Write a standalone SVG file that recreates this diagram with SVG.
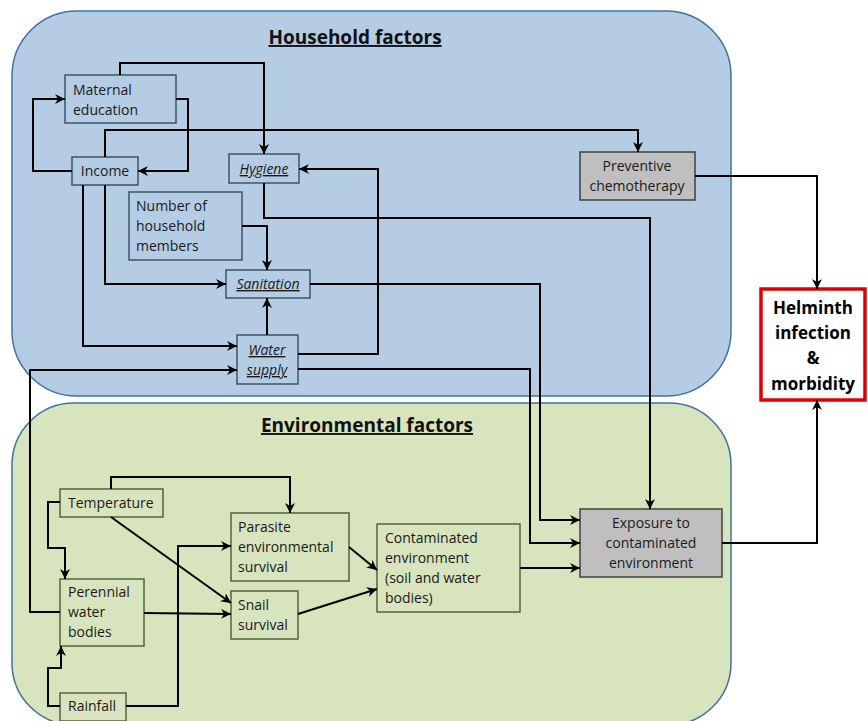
<svg xmlns="http://www.w3.org/2000/svg" width="868" height="721" viewBox="0 0 868 721">
<style>
text{font-family:"Open Sans","Noto Sans","Liberation Sans",sans-serif;font-size:14px;fill:#1a1a1a}
.title{font-size:19px;font-weight:bold;text-decoration:underline;fill:#111}
.hb{fill:none;stroke:#3d5466;stroke-width:1.5}
.eb{fill:none;stroke:#56613f;stroke-width:1.5}
.gb{fill:#bfbfbf;stroke:#404040;stroke-width:1.5}
.iu{font-style:italic;text-decoration:underline}
.mid{text-anchor:middle}
.c path{fill:none;stroke:#000;stroke-width:2;marker-end:url(#ah)}
.hel{font-size:17px;font-weight:bold;fill:#000}
</style>
<defs>
<marker id="ah" markerUnits="userSpaceOnUse" markerWidth="10" markerHeight="10" refX="10" refY="5" orient="auto">
<path d="M0,0 L10,5 L0,10 L3,5 z" fill="#000"/>
</marker>
</defs>
<g id="household-region">
<rect x="12" y="11" width="719" height="385" rx="65" fill="#b4cde4" stroke="#41719c" stroke-width="1.5"/>
<text class="title mid" x="355" y="44">Household factors</text>
</g>
<g id="environmental-region">
<rect x="12" y="403" width="719" height="322" rx="62" fill="#d7e4bd" stroke="#41719c" stroke-width="1.5"/>
<text class="title mid" x="367" y="432">Environmental factors</text>
</g>
<g id="maternal-education">
<rect class="hb" x="65" y="75" width="111" height="48"/>
<text x="73" y="95">Maternal</text><text x="73" y="115">education</text>
</g>
<g id="income">
<rect class="hb" x="72" y="157" width="66" height="28"/>
<text class="mid" x="105" y="176">Income</text>
</g>
<g id="hygiene">
<rect class="hb" x="229" y="154" width="70" height="29"/>
<text class="mid iu" x="264" y="174">Hygiene</text>
</g>
<g id="household-members">
<rect class="hb" x="129" y="192" width="113" height="68"/>
<text x="136" y="211">Number of</text><text x="136" y="231">household</text><text x="136" y="251">members</text>
</g>
<g id="sanitation">
<rect class="hb" x="226" y="270" width="84" height="28"/>
<text class="mid iu" x="268" y="289">Sanitation</text>
</g>
<g id="water-supply">
<rect class="hb" x="237" y="335" width="61" height="49"/>
<text class="mid iu" x="267" y="355">Water</text><text class="mid iu" x="267" y="375">supply</text>
</g>
<g id="preventive-chemotherapy">
<rect class="gb" x="580" y="152" width="115" height="48"/>
<text class="mid" x="637" y="171">Preventive</text><text class="mid" x="637" y="191">chemotherapy</text>
</g>
<g id="helminth">
<rect x="761" y="289" width="104" height="111" fill="#fff" stroke="#e00000" stroke-width="3.5"/>
<text class="mid hel" x="813" y="314">Helminth</text>
<text class="mid hel" x="813" y="339">infection</text>
<text class="mid hel" x="813" y="364">&amp;</text>
<text class="mid hel" x="813" y="390">morbidity</text>
</g>
<g id="exposure">
<rect class="gb" x="580" y="509" width="142" height="68"/>
<text class="mid" x="651" y="528">Exposure to</text><text class="mid" x="651" y="548">contaminated</text><text class="mid" x="651" y="568">environment</text>
</g>
<g id="contaminated-environment">
<rect class="eb" x="377" y="524" width="143" height="88"/>
<text x="385" y="543">Contaminated</text><text x="385" y="563">environment</text><text x="385" y="583">(soil and water</text><text x="385" y="603">bodies)</text>
</g>
<g id="temperature">
<rect class="eb" x="60" y="489" width="103" height="28"/>
<text x="68" y="508">Temperature</text>
</g>
<g id="parasite-survival">
<rect class="eb" x="231" y="513" width="118" height="68"/>
<text x="238" y="532">Parasite</text><text x="238" y="552">environmental</text><text x="238" y="572">survival</text>
</g>
<g id="snail-survival">
<rect class="eb" x="231" y="591" width="67" height="48"/>
<text x="238" y="610">Snail</text><text x="238" y="630">survival</text>
</g>
<g id="perennial-water-bodies">
<rect class="eb" x="60" y="579" width="84" height="67"/>
<text x="68" y="597">Perennial</text><text x="68" y="617">water</text><text x="68" y="637">bodies</text>
</g>
<g id="rainfall">
<rect class="eb" x="60" y="693" width="66" height="28"/>
<text x="68" y="711">Rainfall</text>
</g>
<g id="connectors" class="c">
<path d="M120,75 V63 H264 V154"/>
<path d="M176,99 H188 V171 H138"/>
<path d="M72,171 H33 V99 H65"/>
<path d="M105,157 V130 H638 V152"/>
<path d="M83,185 V346 H237"/>
<path d="M105,185 V284 H226"/>
<path d="M242,226 H267 V270"/>
<path d="M267,335 V298"/>
<path d="M264,183 V218 H650 V509"/>
<path d="M298,354 H378 V169 H299"/>
<path d="M310,284 H540 V520 H580"/>
<path d="M298,369 H530 V543 H580"/>
<path d="M520,568 H580"/>
<path d="M695,176 H817 V289"/>
<path d="M722,543 H817 V400"/>
<path d="M60,612 H30 V370 H237"/>
<path d="M111,489 V477 H290 V513"/>
<path d="M60,502 H48 V548 H65 V579"/>
<path d="M111,517 L231,603"/>
<path d="M144,613 L231,614"/>
<path d="M126,706 H178 V546 H231"/>
<path d="M60,706 H48 V668 H61 V646"/>
<path d="M349,547 L377,570"/>
<path d="M298,614 L377,589"/>
</g>
</svg>
